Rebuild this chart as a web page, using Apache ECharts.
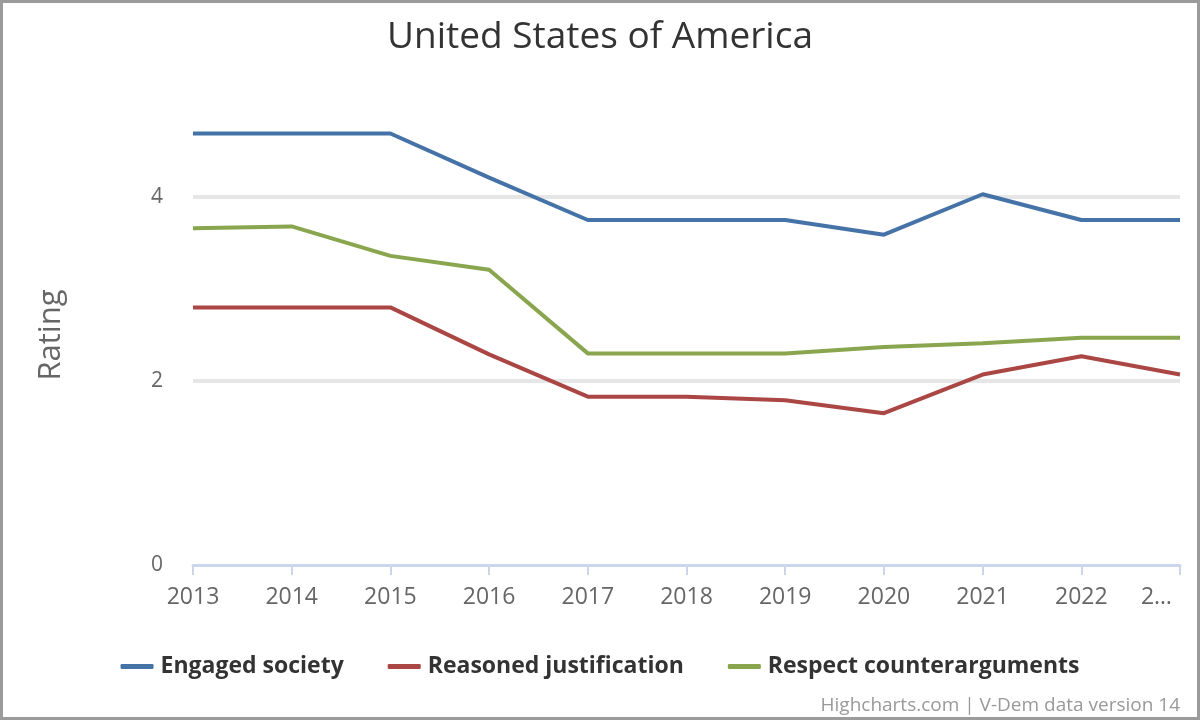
<!DOCTYPE html>
<html>
<head>
<meta charset="utf-8">
<script src="https://cdn.jsdelivr.net/npm/echarts@6/dist/echarts.min.js"></script>
<style>
html,body{margin:0;padding:0;background:#fff;}
#wrap{width:1200px;height:720px;box-sizing:border-box;border:3px solid #9b9b9b;position:relative;}
#chart{position:absolute;left:-3px;top:-3px;width:1200px;height:720px;}
</style>
</head>
<body>
<div id="wrap"><div id="chart"></div></div>
<script>
const titleText = "United States of America";
const years = ["2013","2014","2015","2016","2017","2018","2019","2020","2021","2022","2023"];
const engagedSociety = [4.69, 4.69, 4.69, 4.21, 3.75, 3.75, 3.75, 3.59, 4.03, 3.75, 3.75];
const reasonedJustification = [2.80, 2.80, 2.80, 2.29, 1.83, 1.83, 1.79, 1.65, 2.07, 2.27, 2.07];
const respectCounterarguments = [3.66, 3.68, 3.36, 3.21, 2.30, 2.30, 2.30, 2.37, 2.41, 2.47, 2.47];
const seriesNames = ["Engaged society", "Reasoned justification", "Respect counterarguments"];
const colors = ["#4572A7", "#AA4643", "#89A54E"];
const creditText = "Highcharts.com | V-Dem data version 14";

const font = "'Open Sans', 'DejaVu Sans', sans-serif";
const chart = echarts.init(document.getElementById('chart'), null, {renderer: 'canvas'});
const mk = (name, data, color) => ({
  name, type: 'line', data, color,
  symbol: 'none', smooth: false,
  lineStyle: {width: 4, color},
  clip: false
});
chart.setOption({
  animation: false,
  textStyle: {fontFamily: font},
  title: {
    text: titleText, left: 'center', top: 14,
    textStyle: {fontSize: 37, fontWeight: 'normal', color: '#333', fontFamily: font}
  },
  grid: {left: 193, right: 20, top: 105, bottom: 155, containLabel: false},
  xAxis: {
    type: 'category', data: years, boundaryGap: false,
    axisLine: {lineStyle: {color: '#ccd6eb', width: 3}},
    axisTick: {show: true, length: 10, lineStyle: {color: '#ccd6eb', width: 2}, alignWithLabel: true},
    axisLabel: {
      color: '#666', fontSize: 23, margin: 21, fontFamily: font,
      alignMaxLabel: 'right',
      formatter: (v, i) => i === years.length - 1 ? '{t|2…}' : v,
      rich: {t: {color: '#666', fontSize: 23, fontFamily: font, padding: [0, 8, 0, 0]}}
    },
    splitLine: {show: false}
  },
  yAxis: {
    type: 'value', min: 0, max: 5, interval: 2,
    name: 'Rating', nameLocation: 'middle', nameGap: 126, nameRotate: 90,
    nameTextStyle: {fontSize: 31, color: '#666', fontFamily: font},
    axisLine: {show: false}, axisTick: {show: false},
    axisLabel: {color: '#666', fontSize: 21, margin: 30, showMaxLabel: false, fontFamily: font},
    splitLine: {show: true, showMaxLine: false, showMinLine: false, lineStyle: {color: '#e6e6e6', width: 4}}
  },
  legend: {
    bottom: 37, left: 'center',
    icon: 'roundRect', itemWidth: 33, itemHeight: 5, itemGap: 44,
    textStyle: {fontSize: 23, fontWeight: 'bold', color: '#333', fontFamily: font, padding: [0,0,0,2]},
    data: seriesNames
  },
  graphic: [{
    type: 'text', right: 20, bottom: 5,
    style: {text: creditText, fontSize: 19, fill: '#999', fontFamily: font}
  }],
  series: [
    mk(seriesNames[0], engagedSociety, colors[0]),
    mk(seriesNames[1], reasonedJustification, colors[1]),
    mk(seriesNames[2], respectCounterarguments, colors[2])
  ]
});
</script>
</body>
</html>
